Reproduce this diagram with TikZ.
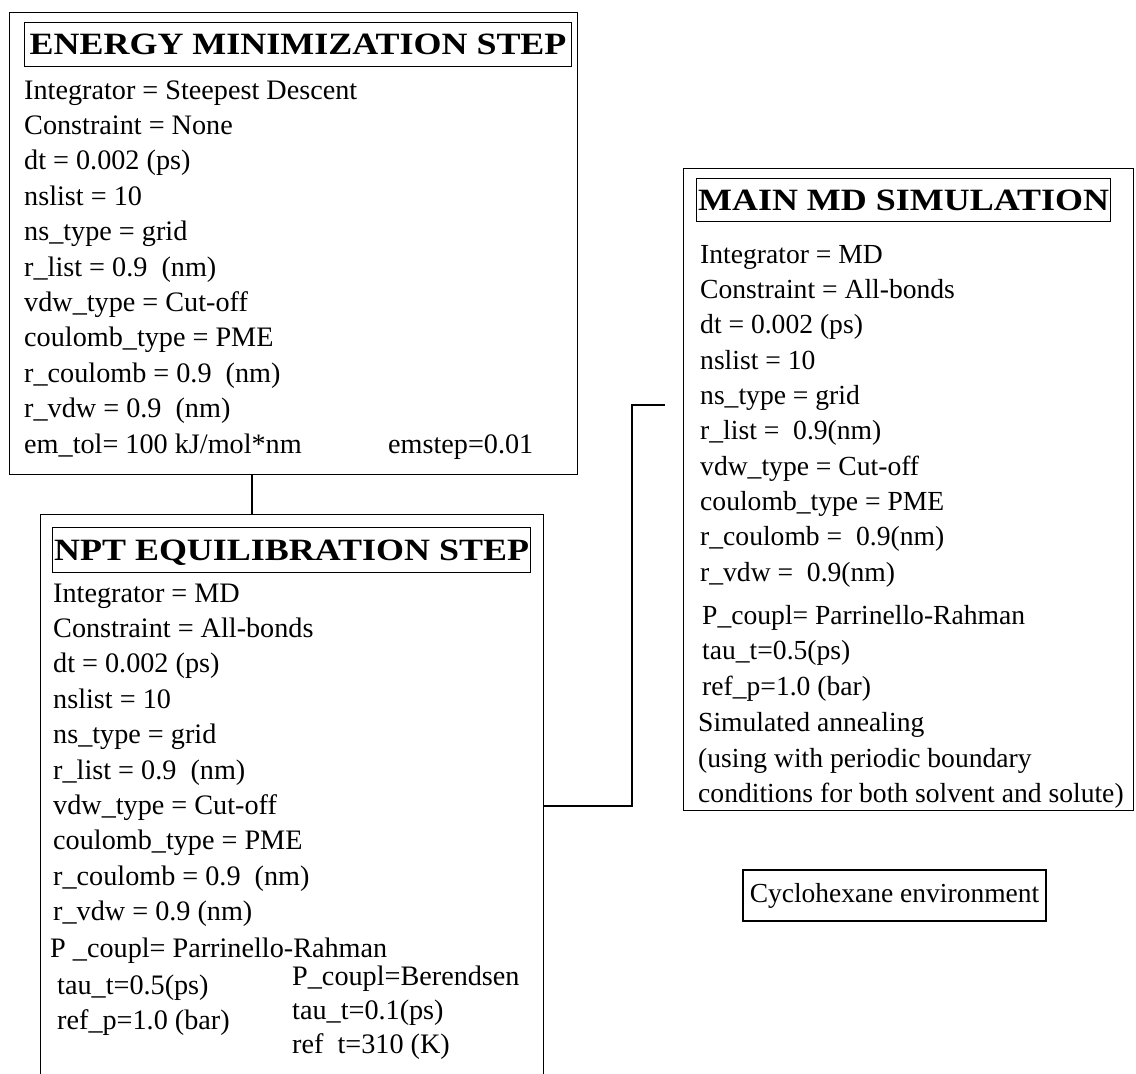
\documentclass[tikz,border=0pt]{standalone}
\usepackage{fontspec}
\setmainfont{Liberation Serif}
\newfontfamily\headfont[FakeStretch=1.16]{Liberation Serif}
\begin{document}
\begin{tikzpicture}[x=1bp,y=-1bp,
  frame/.style={draw, line width=1.3bp, rectangle, inner sep=0pt, anchor=north west},
  head/.style={draw, line width=1.2bp, rectangle, inner sep=0pt, anchor=north west,
    text height=20.5bp, text depth=0pt,
    font=\headfont\bfseries\fontsize{31bp}{31bp}\selectfont},
  txt/.style={anchor=base west, inner sep=0pt, font=\fontsize{28.2bp}{34bp}\selectfont},
  mdtxt/.style={txt, font=\fontsize{27.6bp}{34bp}\selectfont},
  conn/.style={draw, line width=1.3bp}]
  \useasboundingbox (0,0) rectangle (1136,1074);
  \clip (0,0) rectangle (1136,1074);
  \fill[white] (0,0) rectangle (1136,1074);

  % energy minimization block
  \node[frame, minimum width=568bp, minimum height=462bp] (em) at (9,12) {};
  \node[head, minimum width=547bp, minimum height=44bp] (emhead) at (24,22) {ENERGY MINIMIZATION STEP};
  \foreach \s [count=\i from 0] in {
    {Integrator = Steepest Descent}, {Constraint = None}, {dt = 0.002 (ps)},
    {nslist = 10}, {ns\_type = grid}, {r\_list = 0.9 \ (nm)}, {vdw\_type = Cut-off},
    {coulomb\_type = PME}, {r\_coulomb = 0.9 \ (nm)}, {r\_vdw = 0.9 \ (nm)},
    {em\_tol= 100 kJ/mol*nm}}
    \node[txt] (em-\i) at (24, 99+35.4*\i) {\s};
  \node[txt] (emstep) at (388, 453) {emstep=0.01};

  % NPT equilibration block
  \node[frame, minimum width=503bp, minimum height=600bp] (npt) at (40,514) {};
  \node[head, minimum width=478bp, minimum height=45bp] (npthead) at (52,527) {NPT EQUILIBRATION STEP};
  \foreach \s [count=\i from 0] in {
    {Integrator = MD}, {Constraint = All-bonds}, {dt = 0.002 (ps)},
    {nslist = 10}, {ns\_type = grid}, {r\_list = 0.9 \ (nm)}, {vdw\_type = Cut-off},
    {coulomb\_type = PME}, {r\_coulomb = 0.9 \ (nm)}, {r\_vdw = 0.9 (nm)}}
    \node[txt] (npt-\i) at (53, 602+35.4*\i) {\s};
  \node[txt] (npt-pc) at (50, 957) {P \_coupl= Parrinello-Rahman};
  \node[txt] (npt-tau) at (57, 994) {tau\_t=0.5(ps)};
  \node[txt] (npt-refp) at (57, 1029) {ref\_p=1.0 (bar)};
  \node[txt] (npt-ber) at (292, 985) {P\_coupl=Berendsen};
  \node[txt] (npt-taub) at (292, 1019) {tau\_t=0.1(ps)};
  \node[txt] (npt-reft) at (292, 1053) {ref \ t=310 (K)};

  % main MD simulation block
  \node[frame, minimum width=450bp, minimum height=642bp] (md) at (683,168) {};
  \node[head, minimum width=414bp, minimum height=43bp] (mdhead) at (696,178) {MAIN MD SIMULATION};
  \foreach \s [count=\i from 0] in {
    {Integrator = MD}, {Constraint = All-bonds}, {dt = 0.002 (ps)},
    {nslist = 10}, {ns\_type = grid}, {r\_list = \ 0.9(nm)}, {vdw\_type = Cut-off},
    {coulomb\_type = PME}, {r\_coulomb = \ 0.9(nm)}, {r\_vdw = \ 0.9(nm)}}
    \node[mdtxt] (md-\i) at (700, 263+35.35*\i) {\s};
  \node[mdtxt] (md-pc) at (702, 624) {P\_coupl= Parrinello-Rahman};
  \node[mdtxt] (md-tau) at (702, 659) {tau\_t=0.5(ps)};
  \node[mdtxt] (md-refp) at (702, 695) {ref\_p=1.0 (bar)};
  \node[mdtxt] (md-sa) at (698, 731) {Simulated annealing};
  \node[mdtxt] (md-pbc1) at (698, 767) {(using with periodic boundary};
  \node[mdtxt] (md-pbc2) at (698, 802) {conditions for both solvent and solute)};

  % environment label
  \node[draw, line width=1.3bp, rectangle, inner sep=0pt, minimum width=303bp, minimum height=51bp,
    font=\fontsize{27.5bp}{32bp}\selectfont] (env) at (894.5,895.5) {Cyclohexane environment};

  % connectors
  \coordinate (c1) at (252,0);
  \coordinate (j1) at (632,806);
  \coordinate (j2) at (632,405);
  \coordinate (mdend) at (665,405);
  \draw[conn] (em.south -| c1) -- (npt.north -| c1);
  \draw[conn] (npt.east |- j1) -- (j1) -- (j2) -- (mdend);
\end{tikzpicture}
\end{document}
